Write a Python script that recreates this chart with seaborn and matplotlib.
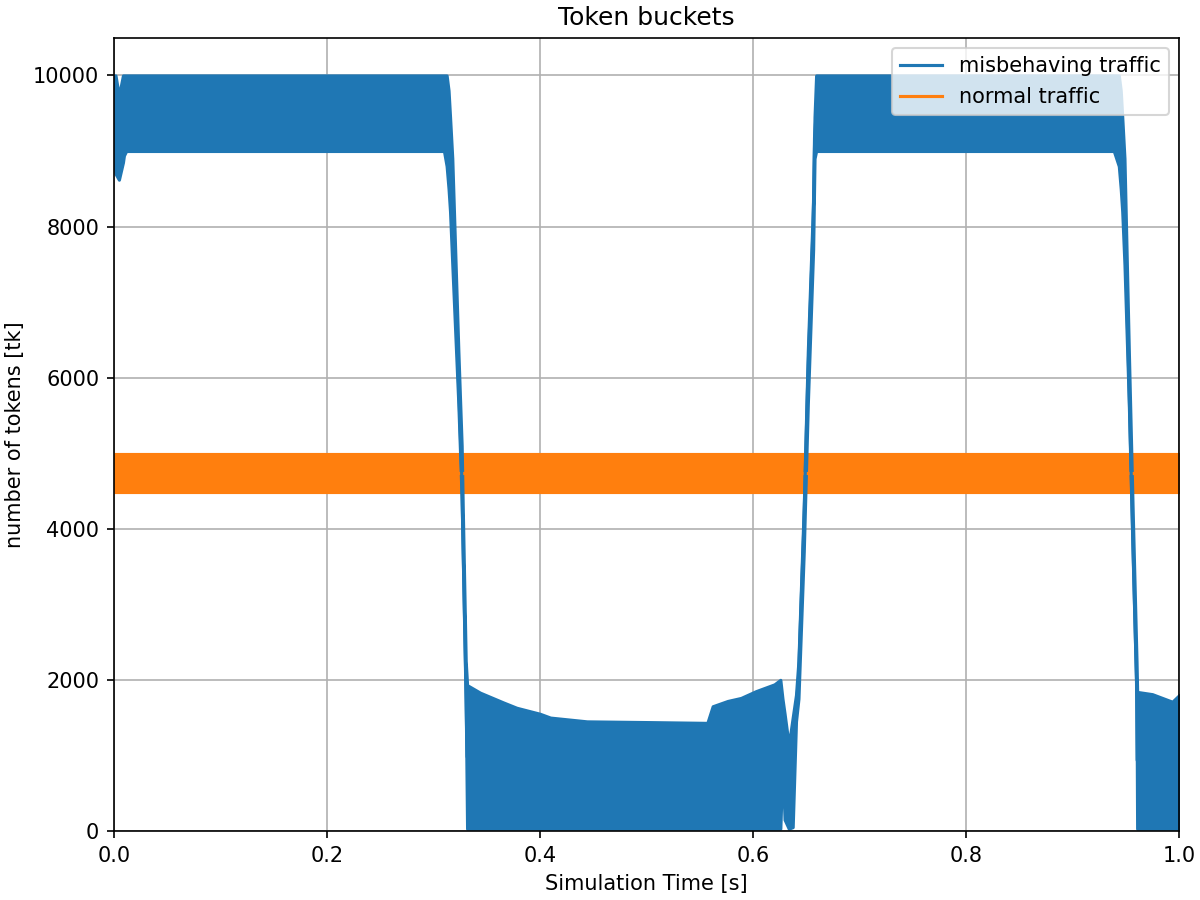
import pandas as pd
import numpy as np
import matplotlib
matplotlib.use("Agg")
import matplotlib.pyplot as plt
import seaborn as sns

# misbehaving traffic: envelope of the fast oscillation (min / max per time)
misb_time = [0.0, 0.0015, 0.0047, 0.0085, 0.0094, 0.0115,
             0.3098, 0.3123, 0.3141, 0.3155, 0.3176, 0.3233, 0.3264, 0.3274, 0.3302,
             0.3315, 0.3437, 0.3656, 0.378, 0.400, 0.4096, 0.444, 0.504, 0.557,
             0.562, 0.576, 0.5885, 0.6026, 0.6199, 0.6255,
             0.6275, 0.6295, 0.6334, 0.6371, 0.6402, 0.6425, 0.6475, 0.6513, 0.6563,
             0.6576, 0.6591,
             0.9385, 0.9432, 0.9450, 0.9464, 0.9485, 0.9526, 0.9561, 0.9598,
             0.9604, 0.9746, 0.9934, 1.0]
misb_low = [8850, 8700, 8620, 8850, 8940, 9000,
            9000, 8800, 8500, 8200, 7500, 5650, 4400, 3700, 1750,
            30, 30, 30, 30, 30, 30, 30, 30, 30,
            30, 30, 30, 30, 30, 30,
            900, 150, 30, 50, 1450, 1750, 3700, 5650, 7700,
            8900, 9000,
            9000, 8800, 8500, 8200, 7500, 5650, 3700, 1750,
            30, 30, 30, 30]
misb_high = [10000, 10000, 9730, 10000, 10000, 10000,
             10000, 10000, 9800, 9450, 8900, 6350, 5100, 4300, 2250,
             1930, 1830, 1700, 1630, 1550, 1500, 1450, 1440, 1430,
             1650, 1720, 1760, 1850, 1940, 2000,
             1750, 1550, 1135, 1500, 1800, 2250, 4300, 6350, 8350,
             9450, 10000,
             10000, 10000, 9800, 9450, 8900, 6350, 4300, 2250,
             1840, 1810, 1710, 1800]

# normal traffic: steady band
norm_time = [0.0, 1.0]
norm_low = [4485, 4485]
norm_high = [4990, 4990]


def to_long(time, low, high):
    return pd.DataFrame({
        "time": list(time) + list(time),
        "tokens": list(low) + list(high),
    })


def main():
    misb_df = to_long(misb_time, misb_low, misb_high)
    norm_df = to_long(norm_time, norm_low, norm_high)

    fig, ax = plt.subplots(figsize=(8, 6))
    band = {"alpha": 1, "linewidth": 1.5}

    sns.lineplot(data=norm_df, x="time", y="tokens", color="#ff7f0e",
                 errorbar=("pi", 100), err_kws=band, linewidth=1.5,
                 label="normal traffic", ax=ax)
    sns.lineplot(data=misb_df, x="time", y="tokens", color="#1f77b4",
                 errorbar=("pi", 100), err_kws=band, linewidth=1.5,
                 label="misbehaving traffic", ax=ax)

    handles, labels = ax.get_legend_handles_labels()
    order = [labels.index("misbehaving traffic"), labels.index("normal traffic")]
    ax.legend([handles[i] for i in order], [labels[i] for i in order],
              loc="upper right")

    ax.set_xlim(0, 1)
    ax.set_ylim(0, 10500)
    ax.set_axisbelow(True)
    ax.grid(True)
    ax.set_title("Token buckets")
    ax.set_xlabel("Simulation Time [s]")
    ax.set_ylabel("number of tokens [tk]")

    plt.tight_layout(pad=0.2)
    plt.savefig("out.png", dpi=150)


if __name__ == "__main__":
    main()
